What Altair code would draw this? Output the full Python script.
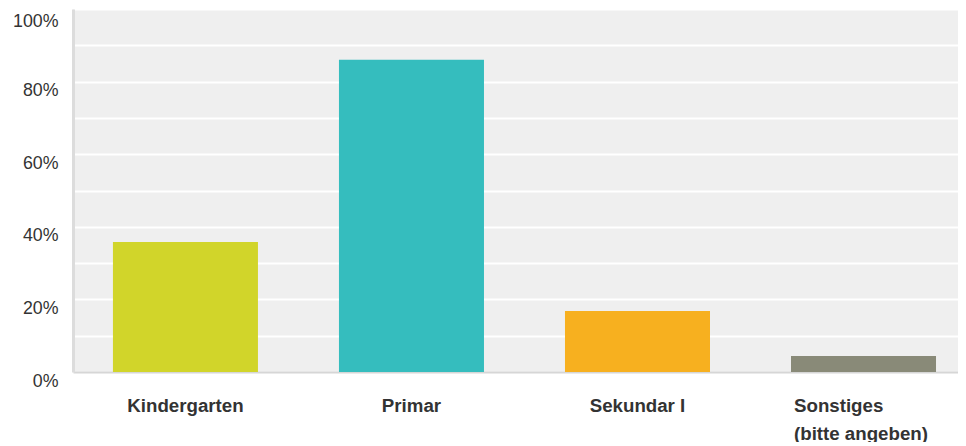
import altair as alt
import pandas as pd

categories = ["Kindergarten", "Primar", "Sekundar I", "Sonstiges (bitte angeben)"]
shares = [0.358, 0.86, 0.168, 0.044]
colors = ["#d1d52a", "#35bdbe", "#f7b01f", "#898a78"]
y_ticks = [i / 10 for i in range(11)]

df = pd.DataFrame({"cat": categories, "share": shares, "color": colors})

x_axis = alt.Axis(
    title=None,
    labelAngle=0,
    ticks=False,
    tickSize=0,
    domainColor="#d6d6d6",
    domainWidth=2,
    labelFont="Liberation Sans",
    labelFontSize=18.7,
    labelFontWeight="bold",
    labelColor="#333333",
    labelPadding=24,
    labelLineHeight=28,
    labelBaseline="top",
    labelExpr="datum.value == 'Sonstiges (bitte angeben)' ? ['Sonstiges', '(bitte angeben)'] : datum.label",
    labelAlign={"condition": {"test": "datum.value == 'Sonstiges (bitte angeben)'", "value": "left"}, "value": "center"},
    labelOffset={"condition": {"test": "datum.value == 'Sonstiges (bitte angeben)'", "value": -69.5}, "value": 0},
    grid=False,
)

y_axis = alt.Axis(
    title=None,
    values=y_ticks,
    labelExpr="round(datum.value * 10) % 2 == 0 ? format(datum.value, '.0%') : ''",
    ticks=False,
    tickSize=0,
    domainColor="#dcdcdc",
    domainWidth=3,
    gridColor="#ffffff",
    gridWidth=2,
    labelFont="Liberation Sans",
    labelFontSize=17.8,
    labelColor="#333333",
    labelPadding=15,
    labelBaseline="middle",
    labelOffset={"condition": {"test": "datum.value > 0.95", "value": 12}, "value": 9},
)

chart = (
    alt.Chart(df)
    .mark_bar()
    .encode(
        x=alt.X(
            "cat:N",
            sort=categories,
            axis=x_axis,
            scale=alt.Scale(paddingInner=0.3584, paddingOuter=0.137, align=0.645),
        ),
        y=alt.Y("share:Q", axis=y_axis, scale=alt.Scale(domain=[0, 1], nice=False)),
        color=alt.Color("color:N", scale=None, legend=None),
    )
    .properties(
        width=885,
        height=363,
        autosize=alt.AutoSizeParams(type="none"),
        padding={"left": 65, "top": 1, "right": 0, "bottom": 70},
    )
    .configure_view(fill="#efefef", stroke=None)
    .configure_axis(gridOpacity=1)
)

chart.save("out.html", embed_options={"renderer": "svg", "actions": False})
